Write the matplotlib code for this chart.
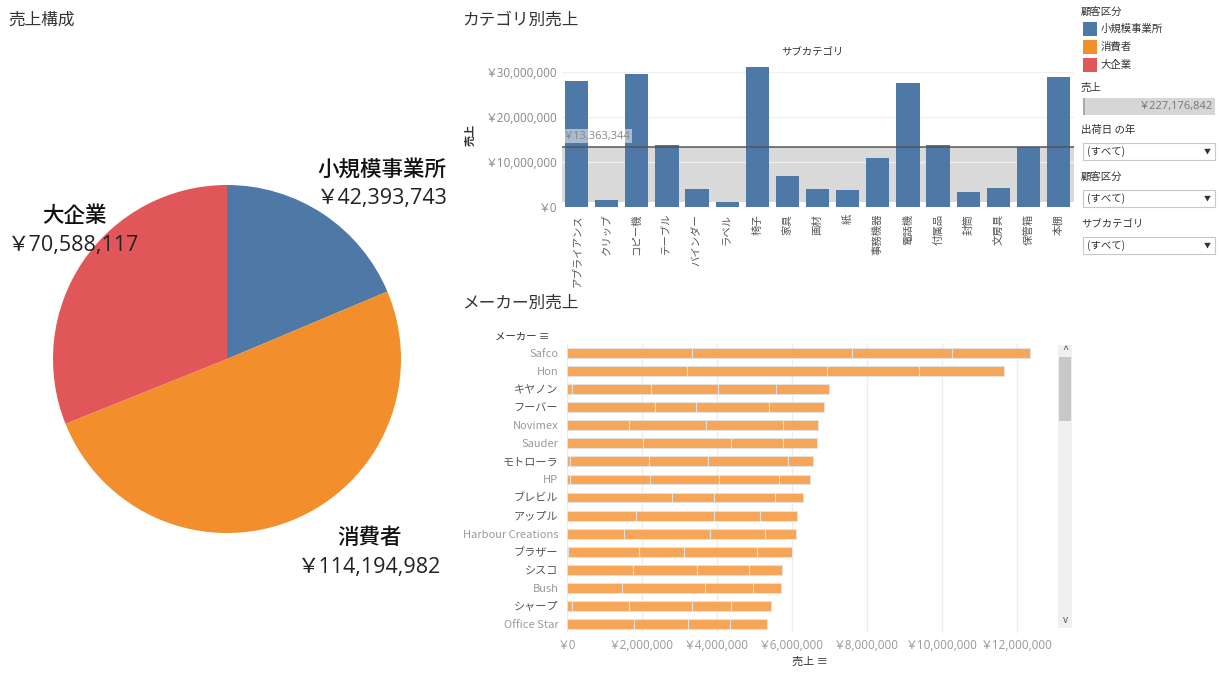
import numpy as np
import matplotlib
matplotlib.use('Agg')
import matplotlib.pyplot as plt
from matplotlib.patches import Rectangle
from matplotlib.ticker import FuncFormatter

plt.rcParams['font.family'] = ['Noto Sans CJK JP', 'DejaVu Sans']

# --- data ---
segments = ['小規模事業所', '消費者', '大企業']
segment_sales = [42393743, 114194982, 70588117]
segment_colors = ['#4E79A7', '#F28E2B', '#E15759']

subcategories = ['アプライアンス', 'クリップ', 'コピー機', 'テーブル', 'バインダー', 'ラベル',
                 '椅子', '家具', '画材', '紙', '事務機器', '電話機', '付属品', '封筒',
                 '文房具', '保管箱', '本棚']
subcategory_sales = [28.0, 1.5, 29.6, 13.8, 4.1, 1.2, 31.2, 6.8, 3.9, 3.7, 11.0,
                     27.6, 13.8, 3.4, 4.3, 13.3, 29.0]  # million yen
avg_label = '￥13,363,344'
total_label = '￥227,176,842'

makers = ['Safco', 'Hon', 'キヤノン', 'フーバー', 'Novimex', 'Sauder', 'モトローラ', 'HP',
          'ブレビル', 'アップル', 'Harbour Creations', 'ブラザー', 'シスコ', 'Bush',
          'シャープ', 'Office Star']
# stacked pieces of each maker bar (million yen)
part1 = [0, 0, 0.13, 0, 0, 0, 0.08, 0.08, 0, 0, 0, 0.04, 0, 0, 0.14, 0]
part2 = [3.33, 3.22, 2.12, 2.36, 1.67, 2.03, 2.12, 2.14, 2.80, 1.84, 1.53, 1.88, 1.77, 1.47, 1.53, 1.79]
part3 = [4.29, 3.71, 1.78, 1.08, 2.05, 2.34, 1.58, 1.83, 1.12, 2.09, 2.28, 1.22, 1.71, 2.21, 1.67, 1.44]
part4 = [2.66, 2.46, 1.56, 1.96, 2.04, 1.39, 2.13, 1.60, 1.63, 1.22, 1.48, 1.94, 1.38, 1.28, 1.05, 1.13]
part5 = [2.07, 2.26, 1.40, 1.45, 0.94, 0.91, 0.67, 0.84, 0.75, 0.98, 0.82, 0.92, 0.88, 0.75, 1.07, 0.97]

W, H = 1228, 688
fig = plt.figure(figsize=(W / 100, H / 100), dpi=100)
num_font = ['Open Sans', 'Noto Sans CJK JP']


def box(x0, y0, x1, y1):
    return [x0 / W, 1 - y1 / H, (x1 - x0) / W, (y1 - y0) / H]


def ftext(px, py, s, **kw):
    fig.text(px / W, 1 - py / H, s, **kw)


def frect(px, py, w, h, **kw):
    fig.add_artist(Rectangle((px / W, 1 - (py + h) / H), w / W, h / H,
                             transform=fig.transFigure, **kw))


yen = FuncFormatter(lambda v, p: f'￥{v:,.0f}')

# --- pie ---
ax1 = fig.add_axes(box(53, 185, 401, 533))
ax1.pie(segment_sales, colors=segment_colors, startangle=90, counterclock=False,
        wedgeprops=dict(linewidth=0))
ax1.set_xlim(-1, 1)
ax1.set_ylim(-1, 1)
ax1.set_aspect('equal')
ftext(8, 20, '売上構成', fontsize=12, color='#333333', va='center')
pie_label_pos = [(382, 170, 198), (370, 538, 568), (74, 216, 245)]
for name, val, (px, py1, py2) in zip(segments, segment_sales, pie_label_pos):
    ftext(px, py1, name, fontsize=15.5, color='#111111', ha='center', va='center', fontweight='medium')
    ftext(px, py2, f'￥{val:,}', fontsize=15.5, color='#222222', ha='center', va='center',
          family=num_font)

# --- category bars ---
ax2 = fig.add_axes(box(561.5, 65, 1073.6, 207))
vals = np.array(subcategory_sales) * 1e6
x = np.arange(len(subcategories))
ax2.axhspan(vals.min(), vals.mean(), color='#d9d9d9', zorder=0, lw=0)
ax2.bar(x, vals, width=0.77, color='#4E79A7', zorder=2)
ax2.axhline(vals.mean(), color='#555555', lw=1.3, alpha=0.85, zorder=3)
ax2.text(-0.45, vals.mean() + 1.2e6, avg_label, fontsize=8, color='#888888', va='bottom',
         family=num_font,
         bbox=dict(facecolor='white', alpha=0.5, edgecolor='none', pad=1), zorder=4)
ax2.set_xlim(-0.5, len(subcategories) - 0.5)
ax2.set_ylim(0, 31.6e6)
ax2.set_yticks([0, 10e6, 20e6, 30e6])
ax2.yaxis.set_major_formatter(yen)
ax2.set_xticks(x)
ax2.set_xticklabels(subcategories, rotation=90, fontsize=7.5, color='#555555', va='top')
ax2.tick_params(axis='y', labelsize=8.5, labelcolor='#888888', length=0, pad=3)
ax2.tick_params(axis='x', length=0, pad=5)
for lab in ax2.get_yticklabels():
    lab.set_family(num_font)
ax2.grid(axis='y', color='#f0f0f0', lw=1, zorder=1)
ax2.set_axisbelow(True)
for s in ax2.spines.values():
    s.set_visible(False)
ftext(462, 20, 'カテゴリ別売上', fontsize=12, color='#333333', va='center')
ftext(812, 52, 'サブカテゴリ', fontsize=7.5, color='#333333', ha='center', va='center')
ftext(470, 135, '売上', fontsize=8, color='#333333', ha='center', va='center', rotation=90,
      fontweight='bold')

# --- maker bars ---
ax3 = fig.add_axes(box(566.7, 344, 1052, 633))
y = np.arange(len(makers))
left = np.zeros(len(makers))
for part in [part1, part2, part3, part4, part5]:
    w = np.array(part) * 1e6
    ax3.barh(y, w, left=left, height=0.55, color='#F7A556', edgecolor='#e2e2e2', lw=0.8, zorder=2)
    left += w
ax3.set_ylim(len(makers) - 0.5, -0.5)
ax3.set_xlim(0, 12.94e6)
ax3.set_xticks(np.arange(0, 13e6, 2e6))
ax3.xaxis.set_major_formatter(yen)
ax3.set_yticks(y)
ax3.set_yticklabels(makers, fontsize=8)
for lab in ax3.get_yticklabels():
    lab.set_color('#999999' if lab.get_text().isascii() else '#555555')
for lab in ax3.get_xticklabels():
    lab.set_family(num_font)
ax3.tick_params(axis='x', labelsize=8.5, labelcolor='#999999', length=0, pad=4)
ax3.tick_params(axis='y', length=0, pad=6)
ax3.grid(axis='x', color='#eeeeee', lw=1, zorder=0)
ax3.set_axisbelow(True)
for s in ax3.spines.values():
    s.set_visible(False)
ftext(462, 303, 'メーカー別売上', fontsize=12, color='#333333', va='center')
ftext(522, 337, 'メーカー ≡', fontsize=7.5, color='#333333', ha='center', va='center')
ftext(810, 662, '売上 ≡', fontsize=8, color='#333333', ha='center', va='center')

# scroll bar
frect(1058, 345, 14, 283, facecolor='#f0f0f0', edgecolor='none')
frect(1059, 357, 12, 64, facecolor='#c8c8c8', edgecolor='none')
ftext(1065, 350, '^', fontsize=8, color='#555555', ha='center', va='center')
ftext(1065, 620, 'v', fontsize=7, color='#555555', ha='center', va='center')

# --- legend / filters ---
ftext(1081, 12, '顧客区分', fontsize=7.5, color='#333333', va='center')
for i, (name, c) in enumerate(zip(segments, segment_colors)):
    yy = 29 + 18 * i
    frect(1083, yy - 7, 14, 14, facecolor=c, edgecolor='none')
    ftext(1101, yy, name, fontsize=7.5, color='#333333', va='center')
ftext(1081, 88, '売上', fontsize=7.5, color='#333333', va='center')
frect(1083, 98, 132, 17, facecolor='#d6d6d6', edgecolor='none')
frect(1083, 98, 2, 17, facecolor='#aaaaaa', edgecolor='none')
ftext(1213, 107, total_label, fontsize=8, color='#777777', ha='right', va='center', family=num_font)
for label, yy in [('出荷日 の年', 130), ('顧客区分', 177), ('サブカテゴリ', 224)]:
    ftext(1081, yy, label, fontsize=7.5, color='#333333', va='center')
    frect(1083, yy + 13, 132, 17, facecolor='white', edgecolor='#c8c8c8', lw=0.8)
    ftext(1087, yy + 21.5, '(すべて)', fontsize=7.5, color='#333333', va='center')
    ftext(1207, yy + 21.5, '▼', fontsize=5, color='#333333', ha='center', va='center')

fig.savefig('out.png', dpi=100)
